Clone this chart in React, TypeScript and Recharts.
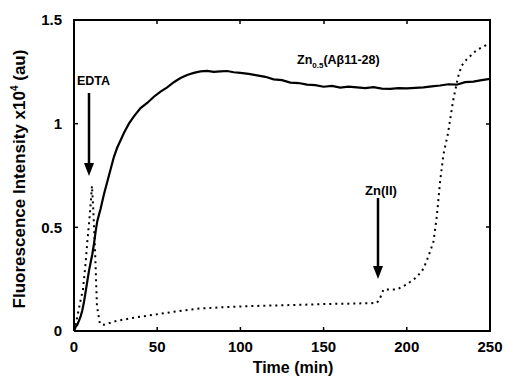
import React from 'react';
import { LineChart, Line, XAxis, YAxis } from 'recharts';

const xTicks = [0, 50, 100, 150, 200, 250];
const yTicks = [0, 0.5, 1, 1.5];

// Zn0.5(Aβ11-28) trace, solid
const solidTime = [0, 1, 2, 3, 4, 5, 6, 7, 8, 9, 10, 11, 12, 13, 14, 15, 16, 18, 20, 22, 24, 26, 28, 30, 33, 36, 40, 44, 48, 52, 56, 60, 64, 68, 72, 76, 80, 84, 88, 92, 96, 100, 105, 110, 115, 120, 125, 130, 135, 140, 145, 150, 155, 160, 165, 170, 175, 180, 185, 190, 195, 200, 205, 210, 215, 220, 225, 230, 235, 240, 245, 250];
const solidValue = [0, 0.02, 0.03, 0.05, 0.07, 0.1, 0.14, 0.19, 0.24, 0.29, 0.33, 0.37, 0.42, 0.48, 0.53, 0.56, 0.59, 0.66, 0.72, 0.78, 0.84, 0.885, 0.92, 0.955, 1.0, 1.035, 1.075, 1.1, 1.13, 1.155, 1.175, 1.2, 1.22, 1.235, 1.245, 1.252, 1.255, 1.25, 1.252, 1.254, 1.248, 1.245, 1.24, 1.233, 1.226, 1.214, 1.21, 1.198, 1.196, 1.188, 1.186, 1.178, 1.182, 1.174, 1.179, 1.175, 1.171, 1.176, 1.169, 1.168, 1.171, 1.17, 1.173, 1.175, 1.18, 1.184, 1.19, 1.188, 1.2, 1.203, 1.21, 1.216];

// EDTA / Zn(II) addition trace, dotted
const dotTime = [0, 1, 2, 3, 4, 5.4, 7, 8, 9.6, 10.8, 11.5, 12.6, 13.8, 15.6, 18, 22, 26, 30, 35, 45, 55, 65, 75, 90, 105, 120, 135, 150, 165, 182, 184, 186, 194, 200, 206, 210, 213, 216, 218, 220, 222, 224.8, 227.8, 230.8, 233, 236, 242, 248, 250];
const dotValue = [0, 0.03, 0.07, 0.11, 0.15, 0.2, 0.33, 0.43, 0.57, 0.7, 0.6, 0.4, 0.12, 0.034, 0.03, 0.04, 0.05, 0.055, 0.063, 0.075, 0.087, 0.098, 0.108, 0.115, 0.12, 0.123, 0.126, 0.13, 0.132, 0.135, 0.16, 0.2, 0.2, 0.225, 0.26, 0.3, 0.36, 0.43, 0.55, 0.72, 0.85, 0.955, 1.11, 1.225, 1.28, 1.31, 1.355, 1.38, 1.385];

const solidData = solidTime.map((t, i) => ({ t, v: solidValue[i] }));
const dotData = dotTime.map((t, i) => ({ t, v: dotValue[i] }));

// plot box (matches chart margins / axis sizes below)
const PL = 74, PT = 20, PR = 490, PB = 331;

const FONT = '"Liberation Sans", Arial, sans-serif';
const tickStyle = { fill: '#000', fontSize: 15, fontWeight: 700, fontFamily: FONT };
const axisLine = { stroke: '#000', strokeWidth: 2 };
const tickLine = { stroke: '#000', strokeWidth: 1.5 };

export default function App() {
  return (
    <div style={{ position: 'absolute', left: 0, top: 0, width: 506, height: 377, background: '#fff' }}>
      <LineChart width={506} height={377} margin={{ top: PT, right: 506 - PR, bottom: 0, left: 0 }}>
        <XAxis
          dataKey="t"
          type="number"
          domain={[0, 250]}
          ticks={xTicks}
          height={377 - PB}
          tick={tickStyle}
          tickSize={-4}
          tickMargin={14}
          axisLine={axisLine}
          tickLine={tickLine}
          allowDataOverflow
        />
        <YAxis
          type="number"
          domain={[0, 1.5]}
          ticks={yTicks}
          width={PL}
          tick={tickStyle}
          tickSize={-4}
          tickMargin={16}
          axisLine={axisLine}
          tickLine={tickLine}
          tickFormatter={(v: number) => String(v)}
          allowDataOverflow
        />
        <Line
          data={dotData}
          dataKey="v"
          type="linear"
          stroke="#000"
          strokeWidth={2}
          strokeDasharray="2 4"
          dot={false}
          isAnimationActive={false}
        />
        <Line
          data={solidData}
          dataKey="v"
          type="linear"
          stroke="#000"
          strokeWidth={2.2}
          dot={false}
          isAnimationActive={false}
        />
      </LineChart>
      {/* top and right edges of the frame */}
      <div style={{ position: 'absolute', left: PL - 1, top: PT - 1, width: PR - PL + 1, height: 2, background: '#000' }} />
      <div style={{ position: 'absolute', left: PR - 1, top: PT - 1, width: 2, height: PB - PT + 2, background: '#000' }} />
      <svg
        width={506}
        height={377}
        style={{ position: 'absolute', left: 0, top: 0, pointerEvents: 'none' }}
        fontFamily={FONT}
        fontWeight={700}
      >
        <line x1={157} x2={157} y1={PT} y2={PT + 4} stroke="#000" strokeWidth={1.5} />
        <line x1={240} x2={240} y1={PT} y2={PT + 4} stroke="#000" strokeWidth={1.5} />
        <line x1={324} x2={324} y1={PT} y2={PT + 4} stroke="#000" strokeWidth={1.5} />
        <line x1={407} x2={407} y1={PT} y2={PT + 4} stroke="#000" strokeWidth={1.5} />
        <line x1={PR} x2={PR - 4} y1={227} y2={227} stroke="#000" strokeWidth={1.5} />
        <line x1={PR} x2={PR - 4} y1={124} y2={124} stroke="#000" strokeWidth={1.5} />
        <text transform="translate(25,179) rotate(-90)" textAnchor="middle" fontSize={17}>
          Fluorescence Intensity x10<tspan dy={-7} fontSize={10}>4</tspan>
          <tspan dy={7}> (au)</tspan>
        </text>
        <text x={293} y={373} textAnchor="middle" fontSize={16}>Time (min)</text>
        <text x={77} y={85} fontSize={12.5}>EDTA</text>
        <line x1={89} y1={93} x2={89} y2={165} stroke="#000" strokeWidth={2.5} />
        <polygon points="84,163 94,163 89,176" fill="#000" />
        <text x={381} y={195} textAnchor="middle" fontSize={13}>Zn(II)</text>
        <line x1={378} y1={198} x2={378} y2={268} stroke="#000" strokeWidth={2.5} />
        <polygon points="373,266 383,266 378,279" fill="#000" />
        <text x={297} y={64} fontSize={12.5}>
          Zn<tspan dy={4} fontSize={8}>0.5</tspan>
          <tspan dy={-4}>(Aβ11-28)</tspan>
        </text>
      </svg>
    </div>
  );
}
